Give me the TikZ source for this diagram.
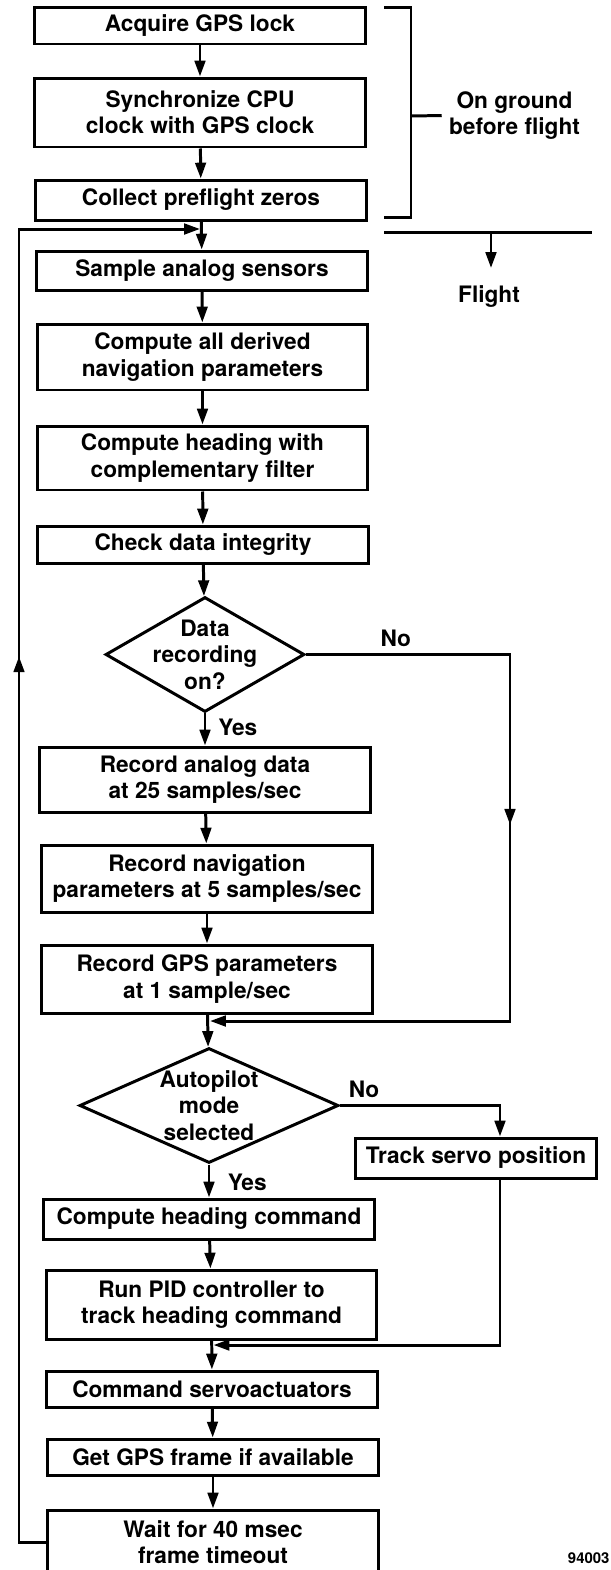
\documentclass[tikz,border=0pt]{standalone}
\usepackage{fontspec}
\setmainfont{TeX Gyre Heros}
\usetikzlibrary{arrows.meta,shapes.geometric,decorations.markings}

\begin{document}
\begin{tikzpicture}[x=0.02cm,y=-0.02cm,->,>={Triangle[length=9pt,width=6pt]},line width=1.7pt,
    font=\fontsize{12.9}{15}\selectfont\bfseries,
    box/.style={draw,rectangle,align=center,inner sep=0pt,minimum width=6.62cm},
    decision/.style={draw,diamond,inner sep=0pt},
    midarrow/.style={decoration={markings,mark=at position #1 with {\arrow{>}}},postaction={decorate}}]
            \useasboundingbox (0,0) rectangle (611,1570);
            % on ground
            \node[box,minimum height=0.74cm](acq)at(200,25.5){Acquire GPS lock};
            \node[box,minimum height=1.38cm](sync)at(200,112.5){Synchronize CPU\\clock with GPS clock};
            \node[box,minimum height=0.8cm](zeros)at(201,200){Collect preflight zeros};
            % flight loop
            \node[box,minimum height=0.78cm](sample)at(202,270.5){Sample analog sensors};
            \node[box,minimum height=1.32cm](derived)at(202.5,357){Compute all derived\\navigation parameters};
            \node[box,minimum height=1.28cm](filter)at(202.5,458){Compute heading with\\complementary filter};
            \node[box,minimum height=0.74cm](check)at(203,544.5){Check data integrity};
            \node[decision,minimum width=3.98cm,minimum height=2.3cm,
                label={[align=center]center:Data\\recording\\on?}](record)at(205,654.5){};
            \node[box,minimum height=1.3cm](analog)at(205,779.5){Record analog data\\at 25 samples/sec};
            \node[box,minimum height=1.34cm](navrec)at(207,878.5){Record navigation\\parameters at 5 samples/sec};
            \node[box,minimum height=1.36cm](gpsrec)at(207,979){Record GPS parameters\\at 1 sample/sec};
            \node[decision,minimum width=5.18cm,minimum height=2.3cm,
                label={[align=center]center:Autopilot\\mode\\selected}](auto)at(209,1105.5){};
            \node[box,minimum width=4.84cm,minimum height=0.8cm](servo)at(476,1158){Track servo position};
            \node[box,minimum height=0.8cm](hdgcmd)at(209,1219){Compute heading command};
            \node[box,minimum height=1.38cm](pid)at(211.5,1304.5){Run PID controller to\\track heading command};
            \node[box,minimum height=0.72cm](servocmd)at(212,1389){Command servoactuators};
            \node[box,minimum height=0.72cm](gpsframe)at(213,1457){Get GPS frame if available};
            \node[box,minimum height=1.28cm](wait)at(213,1542){Wait for 40 msec\\frame timeout};
            % side labels
            \node[align=center](ground)at(514.5,115.5){On ground\\before flight};
            \node(flight)at(489,297){Flight};
            \node[anchor=east,inner sep=0pt,font=\fontsize{8.5}{10}\selectfont\bfseries](fig)at(611,1558){94003};
            \coordinate(join0)at(200,229);
            \coordinate(loopbot)at(19,1542);
            \coordinate(looptop)at(19,229);
            \coordinate(recno)at(510,654.5);
            \coordinate(join1)at(210,1021);
            \coordinate(autono)at(500,1105.5);
            \coordinate(join2)at(213.5,1345);
            \coordinate(flightarrow)at(491,232);
            % main flow
            \draw (acq) -- (sync);
            \draw (sync) -- (zeros);
            \draw (zeros) -- (sample);
            \draw (sample) -- (derived);
            \draw (derived) -- (filter);
            \draw (filter) -- (check);
            \draw (check) -- (record);
            \draw (record) -- node[right,xshift=3.5pt,pos=0.43]{Yes} (analog);
            \draw (analog) -- (navrec);
            \draw (navrec) -- (gpsrec);
            \draw (gpsrec) -- (auto);
            \draw (auto) -- node[right,xshift=6.5pt,pos=0.53]{Yes} (hdgcmd);
            \draw (hdgcmd) -- (pid);
            \draw (pid) -- (servocmd);
            \draw (servocmd) -- (gpsframe);
            \draw (gpsframe) -- (wait);
            % branches
            \draw[midarrow=0.43] (record.east) -- node[above,pos=0.44]{No} (recno) |- (join1);
            \draw (auto.east) -- node[above,pos=0.15]{No} (autono) -- (autono |- servo.north);
            \draw (autono |- servo.south) |- (join2);
            \draw[midarrow=0.6] (wait.west) -- (loopbot) -- (looptop) -- (join0);
            % bracket and flight line
            \draw[-] (384,7) -- (411,7) -- (411,217) -- (384,217);
            \draw[-] (411,116) -- (ground.west);
            \draw[-] (384,232) -- (592,232);
            \draw (flightarrow) -- (491,268);
        \end{tikzpicture}
\end{document}
